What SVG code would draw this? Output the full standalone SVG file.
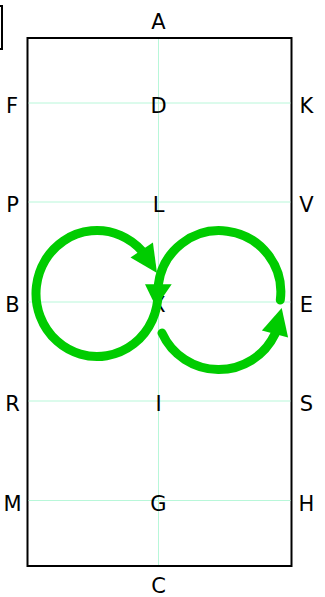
<svg xmlns="http://www.w3.org/2000/svg" width="325" height="597" viewBox="0 0 325 597">
<style>
.lbl{font-family:"DejaVu Sans",sans-serif;font-size:21px;fill:#000;text-anchor:middle}
.grid{stroke:#b8f7d9;stroke-width:1;fill:none}
.frame{stroke:#000;stroke-width:2;fill:none}
.arc{stroke:#00cc00;stroke-width:9;fill:none;stroke-linecap:round}
.head{fill:#00cc00}
</style>
<rect fill="#fff" x="0" y="0" width="325" height="597"/>
<g id="corner"><rect class="frame" x="-20" y="6" width="22" height="43"/></g>
<g id="frame"><rect class="frame" x="27.5" y="38" width="264" height="528"/></g>
<g id="grid">
<line class="grid" x1="158.5" y1="39" x2="158.5" y2="565"/>
<line class="grid" x1="28.5" y1="103" x2="290.5" y2="103"/>
<line class="grid" x1="28.5" y1="202" x2="290.5" y2="202"/>
<line class="grid" x1="28.5" y1="302" x2="290.5" y2="302"/>
<line class="grid" x1="28.5" y1="401" x2="290.5" y2="401"/>
<line class="grid" x1="28.5" y1="500.5" x2="290.5" y2="500.5"/>
</g>
<g id="labels">
<text class="lbl" x="158.5" y="29">A</text>
<text class="lbl" x="158.5" y="593">C</text>
<text class="lbl" x="12" y="113">F</text>
<text class="lbl" x="158.5" y="113">D</text>
<text class="lbl" x="306.5" y="113">K</text>
<text class="lbl" x="12.5" y="212">P</text>
<text class="lbl" x="158.5" y="212">L</text>
<text class="lbl" x="306.5" y="212">V</text>
<text class="lbl" x="12.5" y="312">B</text>
<text class="lbl" x="158.5" y="312">X</text>
<text class="lbl" x="306.5" y="312">E</text>
<text class="lbl" x="12.5" y="411">R</text>
<text class="lbl" x="158.5" y="411">I</text>
<text class="lbl" x="306.5" y="411">S</text>
<text class="lbl" x="12.5" y="511">M</text>
<text class="lbl" x="158.5" y="511">G</text>
<text class="lbl" x="306.5" y="511">H</text>
</g>
<g id="connectors">
<path class="arc" d="M158,293.5 A61,63 0 1 1 142,251"/>
<polygon class="head" points="130.5,257.5 152.9,242.5 157,273"/>
<path class="arc" d="M280.3,300 A61,61 0 1 0 158.4,284.3"/>
<polygon class="head" points="145,284.3 171.7,284.3 156,307"/>
<path class="arc" d="M162,333 A62.3,62.3 0 0 0 275,334"/>
<polygon class="head" points="261.9,330.6 288.1,337.4 281.7,307.9"/>
</g>
</svg>
